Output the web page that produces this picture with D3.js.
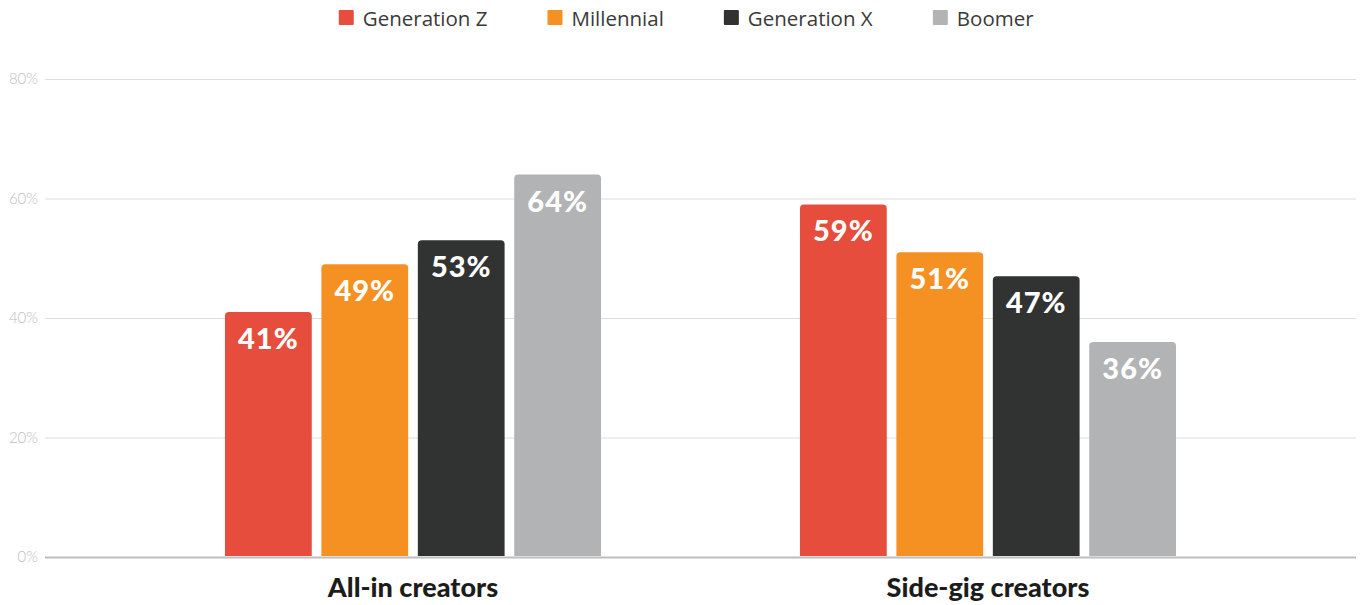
<!DOCTYPE html>
<html>
<head>
<meta charset="utf-8">
<script src="https://cdn.jsdelivr.net/npm/d3@7"></script>
<style>
  html, body { margin: 0; padding: 0; background: #fff; }
  svg { display: block; }
</style>
</head>
<body>
<svg id="chart" width="1361" height="605"></svg>
<script>
// Creator segments and generations
const categories = ["All-in creators", "Side-gig creators"];
const generations = ["Generation Z", "Millennial", "Generation X", "Boomer"];
const colors = ["#E64D3C", "#F59122", "#313332", "#B2B3B5"];

// Share of creators (%) per segment, one array per generation
const genZ = [41, 59];
const millennial = [49, 51];
const genX = [53, 47];
const boomer = [64, 36];

const yTicks = [0, 20, 40, 60, 80];

const seriesValues = [genZ, millennial, genX, boomer];
const rows = categories.map((c, i) => ({
  category: c,
  values: generations.map((g, j) => ({ gen: g, value: seriesValues[j][i], color: colors[j] }))
}));

const W = 1361, H = 605;
const margin = { left: 45, right: 5, top: 79, bottom: 48 };
const svg = d3.select("#chart");

const x0 = d3.scaleBand()
  .domain(categories)
  .range([margin.left, W - margin.right])
  .paddingInner(0.346)
  .paddingOuter(0.313);

const x1 = d3.scaleBand()
  .domain(generations)
  .range([0, x0.bandwidth()])
  .paddingInner(0.1)
  .paddingOuter(0);

const y = d3.scaleLinear()
  .domain([0, 80])
  .range([H - margin.bottom, margin.top]);

// Gridlines and tick labels
const yAxis = d3.axisLeft(y)
  .tickValues(yTicks)
  .tickFormat(d => d + "%")
  .tickSize(-(W - margin.left - margin.right))
  .tickPadding(7);

const gy = svg.append("g")
  .attr("transform", `translate(${margin.left},0)`)
  .call(yAxis);
gy.select(".domain").remove();
gy.selectAll(".tick line")
  .attr("stroke", d => d === 0 ? "#BDBDBD" : "#DDDDDD")
  .attr("stroke-width", d => d === 0 ? 2 : 1);
gy.selectAll(".tick text")
  .attr("fill", "#BDBDBD")
  .style("font-family", "Lato, 'Open Sans', sans-serif")
  .style("font-size", "15px")
  .style("font-weight", 300);

// Bars with rounded top corners
function topRoundedBar(x, yTop, w, h, r) {
  r = Math.min(r, w / 2, h);
  return `M${x},${yTop + h}` +
    `V${yTop + r}` +
    `Q${x},${yTop} ${x + r},${yTop}` +
    `H${x + w - r}` +
    `Q${x + w},${yTop} ${x + w},${yTop + r}` +
    `V${yTop + h}Z`;
}

const groups = svg.append("g").selectAll("g.group")
  .data(rows)
  .join("g")
  .attr("class", "group")
  .attr("transform", d => `translate(${x0(d.category)},0)`);

groups.selectAll("path.bar")
  .data(d => d.values)
  .join("path")
  .attr("class", "bar")
  .attr("fill", d => d.color)
  .attr("d", d => topRoundedBar(x1(d.gen), y(d.value), x1.bandwidth(), y(0) - y(d.value) - 1, 4));

groups.selectAll("text.value")
  .data(d => d.values)
  .join("text")
  .attr("class", "value")
  .attr("x", d => x1(d.gen) + x1.bandwidth() / 2)
  .attr("y", d => y(d.value) + 37)
  .attr("text-anchor", "middle")
  .attr("fill", "#FFFFFF")
  .style("font-family", "Lato, sans-serif")
  .style("font-size", "29px")
  .style("font-weight", 900)
  .style("letter-spacing", "1px")
  .text(d => d.value + "%");

// Category labels
svg.append("g").selectAll("text.cat")
  .data(categories)
  .join("text")
  .attr("class", "cat")
  .attr("x", d => x0(d) + x0.bandwidth() / 2)
  .attr("y", 597)
  .attr("text-anchor", "middle")
  .attr("fill", "#1C1C1C")
  .style("font-family", "Lato, sans-serif")
  .style("font-size", "27px")
  .style("font-weight", 900)
  .text(d => d);

// Legend
const legend = svg.append("g");
const items = legend.selectAll("g.item")
  .data(generations)
  .join("g")
  .attr("class", "item");
items.append("rect")
  .attr("width", 15)
  .attr("height", 15)
  .attr("y", 10)
  .attr("rx", 1)
  .attr("fill", (d, i) => colors[i]);
items.append("text")
  .attr("x", 24)
  .attr("y", 25.5)
  .attr("fill", "#3A3A3A")
  .style("font-family", "'Open Sans', sans-serif")
  .style("font-size", "20.5px")
  .text(d => d);

// Lay legend items out in a centred row
let widths = [];
items.each(function () { widths.push(this.getBBox().width); });
const gap = 60;
const total = d3.sum(widths) + gap * (widths.length - 1);
let cx = 686.5 - total / 2;
items.attr("transform", (d, i) => {
  const t = `translate(${cx},0)`;
  cx += widths[i] + gap;
  return t;
});
</script>
</body>
</html>
